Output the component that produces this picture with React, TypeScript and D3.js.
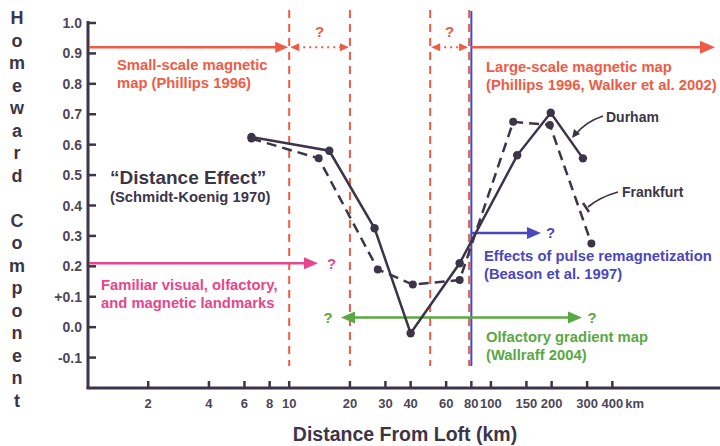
import React from "react";
import * as d3 from "d3";

// distances (km) and homeward component
const durhamKm = [6.5, 15.8, 26.5, 40, 70, 135, 198, 286];
const durhamHc = [0.625, 0.58, 0.325, -0.02, 0.21, 0.565, 0.705, 0.555];
const frankfurtKm = [6.5, 14, 27.5, 41, 70, 129, 196, 315];
const frankfurtHc = [0.62, 0.555, 0.19, 0.14, 0.155, 0.675, 0.665, 0.275];

const xTicks = [2, 4, 6, 8, 10, 20, 30, 40, 60, 80, 100, 150, 200, 300, 400];
const yTicks = [1.0, 0.9, 0.8, 0.7, 0.6, 0.5, 0.4, 0.3, 0.2, 0.1, 0.0, -0.1];
const yTickLabels = ["1.0", "0.9", "0.8", "0.7", "0.6", "0.5", "0.4", "0.3", "0.2", "+0.1", "0.0", "-0.1"];
const redBounds = [10, 20, 50, 78];
const blueBound = 80;

const DARK = "#3c3548";
const RED = "#ef5b45";
const PINK = "#e8458c";
const BLUE = "#4b47bd";
const GREEN = "#5aa844";
const FONT = "'Liberation Sans', Arial, sans-serif";

const W = 720,
  H = 446;

const x = d3.scaleLog().domain([1, 1000]).range([87.5, 692.6]);
const y = d3.scaleLinear().domain([-0.2, 1.0]).range([388, 23]);

const line = d3
  .line<[number, number]>()
  .x((d) => x(d[0]))
  .y((d) => y(d[1]));

const durham = durhamKm.map((k, i) => [k, durhamHc[i]] as [number, number]);
const frankfurt = frankfurtKm.map((k, i) => [k, frankfurtHc[i]] as [number, number]);

// arrowhead polygon pointing toward (tx,ty), dir +1 right / -1 left
const head = (tx: number, ty: number, dir: number, len = 13, half = 5.5) =>
  `${tx},${ty} ${tx - dir * len},${ty - half} ${tx - dir * len},${ty + half}`;

const Label = ({ x0, y0, color, lines, size = 14.8 }: any) => (
  <text x={x0} y={y0} fill={color} fontSize={size} fontWeight="bold" fontFamily={FONT}>
    {lines.map((l: string, i: number) => (
      <tspan key={i} x={x0} dy={i === 0 ? 0 : 17.8}>
        {l}
      </tspan>
    ))}
  </text>
);

export default function App() {
  const yTitle = "Homeward Component".split("");
  const topY = y(0.92);
  const axisY = y(-0.2);

  return (
    <svg width={W} height={H} style={{ position: "absolute", left: 0, top: 0, background: "#fff" }}>
      {/* y title, stacked letters */}
      {yTitle.map((c, i) =>
        c === " " ? null : (
          <text
            key={i}
            x={17}
            y={18 + i * 22.5}
            dy="0.36em"
            textAnchor="middle"
            fontSize={18}
            fontWeight="bold"
            fontFamily={FONT}
            fill={DARK}
          >
            {c}
          </text>
        )
      )}

      {/* region boundaries */}
      {redBounds.map((b) => (
        <line
          key={b}
          x1={x(b)}
          x2={x(b)}
          y1={10}
          y2={366}
          stroke={RED}
          strokeWidth={2}
          strokeDasharray="8,6"
        />
      ))}
      <line x1={x(blueBound)} x2={x(blueBound)} y1={11} y2={366} stroke={BLUE} strokeWidth={2} />

      {/* y axis */}
      <line x1={88} x2={88} y1={y(1.0) - 2} y2={axisY} stroke={DARK} strokeWidth={3} />
      {yTicks.map((t, i) => (
        <g key={t}>
          <line x1={88} x2={96} y1={y(t)} y2={y(t)} stroke={DARK} strokeWidth={2.5} />
          <text
            x={82}
            y={y(t)}
            dy="0.36em"
            textAnchor="end"
            fontSize={14}
            fontWeight="bold"
            fontFamily={FONT}
            fill="#4d4658"
          >
            {yTickLabels[i]}
          </text>
        </g>
      ))}

      {/* x axis */}
      <line x1={86.5} x2={W} y1={axisY} y2={axisY} stroke={DARK} strokeWidth={3} />
      {xTicks.map((t) => (
        <g key={t}>
          <line x1={x(t)} x2={x(t)} y1={axisY} y2={axisY - 7} stroke={DARK} strokeWidth={2.5} />
          <text
            x={x(t)}
            y={403}
            dy="0.36em"
            textAnchor="middle"
            fontSize={13}
            fontWeight="bold"
            fontFamily={FONT}
            fill="#4d4658"
          >
            {t}
          </text>
        </g>
      ))}
      <text x={x(400) + 13} y={403} dy="0.36em" fontSize={13} fontWeight="bold" fontFamily={FONT} fill="#4d4658">
        km
      </text>
      <text
        x={405}
        y={434}
        dy="0.36em"
        textAnchor="middle"
        fontSize={19.5}
        fontWeight="bold"
        fontFamily={FONT}
        fill={DARK}
      >
        Distance From Loft (km)
      </text>

      {/* small-scale magnetic map arrow */}
      <line x1={89} x2={x(10) - 10} y1={topY} y2={topY} stroke={RED} strokeWidth={2.5} />
      <polygon points={head(x(10) - 1, topY, 1)} fill={RED} />
      <Label x0={117} y0={70} color={RED} lines={["Small-scale magnetic", "map (Phillips 1996)"]} />

      {/* dotted ? arrows */}
      {[
        [10, 20],
        [50, 78],
      ].map(([a, b]) => (
        <g key={a}>
          <line x1={x(a) + 8} x2={x(b) - 8} y1={topY} y2={topY} stroke={RED} strokeWidth={2} strokeDasharray="2,4" />
          <polygon points={head(x(a) + 1, topY, -1, 9, 4)} fill={RED} />
          <polygon points={head(x(b) - 1, topY, 1, 9, 4)} fill={RED} />
          <text
            x={(x(a) + x(b)) / 2}
            y={32}
            dy="0.36em"
            textAnchor="middle"
            fontSize={15}
            fontWeight="bold"
            fontFamily={FONT}
            fill={RED}
          >
            ?
          </text>
        </g>
      ))}

      {/* large-scale magnetic map arrow */}
      <line x1={x(blueBound)} x2={702} y1={topY} y2={topY} stroke={RED} strokeWidth={2.5} />
      <polygon points={head(715, topY, 1, 15, 6.5)} fill={RED} />
      <Label
        x0={486}
        y0={72}
        color={RED}
        lines={["Large-scale magnetic map", "(Phillips 1996, Walker et al. 2002)"]}
      />

      {/* familiar landmarks */}
      <line x1={89} x2={306} y1={y(0.21)} y2={y(0.21)} stroke={PINK} strokeWidth={2.5} />
      <polygon points={head(318, y(0.21), 1, 14, 6)} fill={PINK} />
      <text x={327} y={y(0.21)} dy="0.36em" fontSize={15} fontWeight="bold" fontFamily={FONT} fill={PINK}>
        ?
      </text>
      <Label x0={101} y0={290} color={PINK} lines={["Familiar visual, olfactory,", "and magnetic landmarks"]} />

      {/* pulse remagnetization */}
      <line x1={x(blueBound)} x2={528} y1={y(0.31)} y2={y(0.31)} stroke={BLUE} strokeWidth={2.5} />
      <polygon points={head(541, y(0.31), 1, 14, 6)} fill={BLUE} />
      <text x={546} y={y(0.31)} dy="0.36em" fontSize={15} fontWeight="bold" fontFamily={FONT} fill={BLUE}>
        ?
      </text>
      <Label
        x0={484}
        y0={261}
        color={BLUE}
        lines={["Effects of pulse remagnetization", "(Beason et al. 1997)"]}
      />

      {/* olfactory gradient map */}
      <line x1={354} x2={569} y1={y(0.032)} y2={y(0.032)} stroke={GREEN} strokeWidth={2.5} />
      <polygon points={head(341, y(0.032), -1, 14, 6)} fill={GREEN} />
      <polygon points={head(582, y(0.032), 1, 14, 6)} fill={GREEN} />
      <text x={328} y={y(0.032)} dy="0.36em" textAnchor="middle" fontSize={15} fontWeight="bold" fontFamily={FONT} fill={GREEN}>
        ?
      </text>
      <text x={592} y={y(0.032)} dy="0.36em" textAnchor="middle" fontSize={15} fontWeight="bold" fontFamily={FONT} fill={GREEN}>
        ?
      </text>
      <Label x0={486} y0={342} color={GREEN} lines={["Olfactory gradient map", "(Wallraff 2004)"]} />

      {/* distance effect */}
      <text x={110} y={177} dy="0.36em" fontSize={19} fontWeight="bold" fontFamily={FONT} fill={DARK}>
        {"\u201CDistance Effect\u201D"}
      </text>
      <text x={110} y={197} dy="0.36em" fontSize={14.8} fontWeight="bold" fontFamily={FONT} fill={DARK}>
        (Schmidt-Koenig 1970)
      </text>

      {/* series */}
      <path d={line(frankfurt) || ""} fill="none" stroke={DARK} strokeWidth={2.5} strokeDasharray="10,6" />
      <path d={line(durham) || ""} fill="none" stroke={DARK} strokeWidth={2.5} />
      {frankfurt.map((d, i) => (
        <circle key={"f" + i} cx={x(d[0])} cy={y(d[1])} r={4} fill={DARK} />
      ))}
      {durham.map((d, i) => (
        <circle key={"d" + i} cx={x(d[0])} cy={y(d[1])} r={4.2} fill={DARK} />
      ))}

      {/* series labels */}
      <path d="M603,116 Q585,122 575,135" fill="none" stroke={DARK} strokeWidth={1.8} />
      <polygon points="572,138 574,129 580,134" fill={DARK} />
      <text x={606} y={117} dy="0.36em" fontSize={14} fontWeight="bold" fontFamily={FONT} fill={DARK}>
        Durham
      </text>
      <path d="M618,192 Q600,197 588,207" fill="none" stroke={DARK} strokeWidth={1.8} />
      <line x1={583} x2={589} y1={203} y2={212} stroke={DARK} strokeWidth={2.5} />
      <text x={622} y={192} dy="0.36em" fontSize={14} fontWeight="bold" fontFamily={FONT} fill={DARK}>
        Frankfurt
      </text>
    </svg>
  );
}
